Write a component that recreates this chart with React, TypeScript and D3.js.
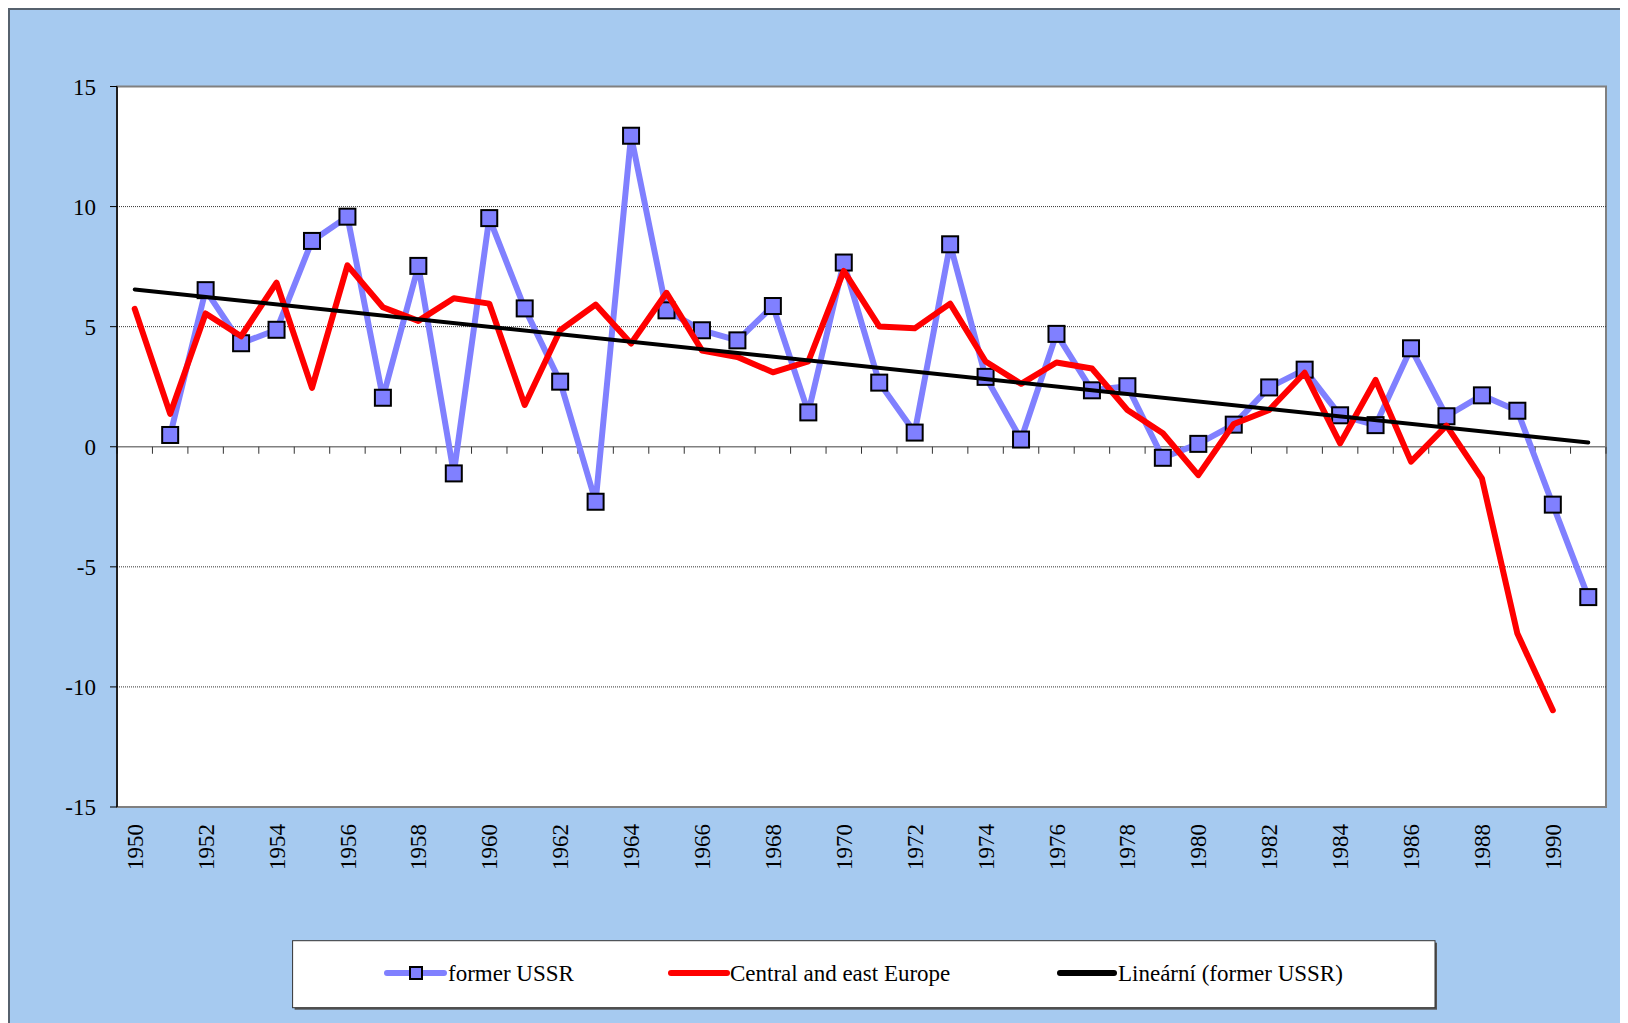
import { scaleBand, scaleLinear, line } from "d3";

const years = [
  1950, 1951, 1952, 1953, 1954, 1955, 1956, 1957, 1958, 1959,
  1960, 1961, 1962, 1963, 1964, 1965, 1966, 1967, 1968, 1969,
  1970, 1971, 1972, 1973, 1974, 1975, 1976, 1977, 1978, 1979,
  1980, 1981, 1982, 1983, 1984, 1985, 1986, 1987, 1988, 1989,
  1990, 1991,
];

// former USSR (no value for 1950)
const ussr: (number | null)[] = [
  null, 0.49, 6.52, 4.31, 4.87, 8.57, 9.58, 2.04, 7.53, -1.11,
  9.52, 5.76, 2.71, -2.29, 12.95, 5.68, 4.85, 4.43, 5.86, 1.43,
  7.67, 2.67, 0.59, 8.43, 2.91, 0.3, 4.7, 2.35, 2.52, -0.46,
  0.12, 0.92, 2.47, 3.21, 1.31, 0.9, 4.1, 1.27, 2.14, 1.5,
  -2.41, -6.26,
];

// Central and east Europe (no value for 1991)
const cee: (number | null)[] = [
  5.74, 1.37, 5.55, 4.6, 6.83, 2.45, 7.55, 5.81, 5.24, 6.18,
  5.96, 1.74, 4.85, 5.92, 4.3, 6.41, 4.01, 3.74, 3.1, 3.55,
  7.32, 5.01, 4.93, 5.96, 3.55, 2.62, 3.51, 3.26, 1.53, 0.56,
  -1.18, 0.95, 1.53, 3.08, 0.14, 2.78, -0.62, 0.88, -1.32, -7.78,
  -10.97, null,
];

const yTicks = [-15, -10, -5, 0, 5, 10, 15];
const seriesNames = ["former USSR", "Central and east Europe", "Lineární (former USSR)"];

const W = 1620;
const H = 1015;
const plot = { left: 109, top: 78.5, right: 1598, bottom: 799 };
const FONT = "'Liberation Serif', 'DejaVu Serif', serif";
const BLUE = "#8080ff";
const RED = "#ff0000";

// Excel style linear trend: x = category position (1-based), fit over points that exist
function linearFit(vals: (number | null)[]) {
  let n = 0, sx = 0, sy = 0, sxx = 0, sxy = 0;
  vals.forEach((v, i) => {
    if (v == null) return;
    const x = i + 1;
    n++; sx += x; sy += v; sxx += x * x; sxy += x * v;
  });
  const slope = (n * sxy - sx * sy) / (n * sxx - sx * sx);
  const icpt = (sy - slope * sx) / n;
  return (i: number) => icpt + slope * (i + 1);
}

export default function App() {
  const x = scaleBand<number>().domain(years).range([plot.left, plot.right]);
  const cx = (yr: number) => (x(yr) ?? 0) + x.bandwidth() / 2;
  const y = scaleLinear().domain([-15, 15]).range([plot.bottom, plot.top]);

  const mkLine = line<[number, number | null]>()
    .defined((d) => d[1] != null)
    .x((d) => cx(d[0]))
    .y((d) => y(d[1] as number));

  const ussrPts = years.map((yr, i) => [yr, ussr[i]] as [number, number | null]);
  const ceePts = years.map((yr, i) => [yr, cee[i]] as [number, number | null]);
  const fit = linearFit(ussr);
  const trendPts = [0, years.length - 1].map((i) => [years[i], fit(i)] as [number, number | null]);

  const tickXs = years.map((yr) => x(yr) ?? 0).concat([plot.right]);
  const y0 = y(0);

  const leg = { x: 284.6, y: 932.7, w: 1142.4, h: 67, cy: 965 };

  return (
    <>
      <style>{`body{overflow:hidden}`}</style>
      <svg width={W} height={H} style={{ display: "block" }} fontFamily={FONT}>
        <rect x={1} y={1} width={W + 40} height={H + 40} fill="#a6caf0" stroke="#56616d" strokeWidth={2} />

        {/* plot area */}
        <rect x={plot.left} y={plot.top} width={plot.right - plot.left} height={plot.bottom - plot.top} fill="#ffffff" stroke="#808080" strokeWidth={2} />

        {/* grid lines */}
        {yTicks.filter((t) => t !== 0 && Math.abs(t) !== 15).map((t) => (
          <line key={"g" + t} x1={plot.left} x2={plot.right} y1={y(t)} y2={y(t)} stroke="#333" strokeWidth={1} strokeDasharray="1,1" />
        ))}

        {/* x axis at zero */}
        <line x1={plot.left} x2={plot.right} y1={y0} y2={y0} stroke="#808080" strokeWidth={1.5} />
        {tickXs.map((tx, i) => (
          <line key={"xt" + i} x1={tx} x2={tx} y1={y0} y2={y0 + 7} stroke="#333" strokeWidth={1} />
        ))}

        {/* y axis */}
        <line x1={plot.left} x2={plot.left} y1={plot.top} y2={plot.bottom} stroke="#000" strokeWidth={1.5} />
        {yTicks.map((t) => (
          <g key={"yt" + t}>
            <line x1={plot.left - 7} x2={plot.left} y1={y(t)} y2={y(t)} stroke="#000" strokeWidth={1} />
            <text x={plot.left - 21} y={y(t)} dy="0.35em" textAnchor="end" fontSize={23} fill="#000">{t}</text>
          </g>
        ))}

        {/* year labels */}
        {years.filter((_yr, i) => i % 2 === 0).map((yr) => (
          <text key={"yl" + yr} transform={`translate(${cx(yr)},${plot.bottom + 17}) rotate(-90)`} dy="0.35em" textAnchor="end" fontSize={23} fill="#000">{yr}</text>
        ))}

        {/* former USSR */}
        <path d={mkLine(ussrPts) || ""} fill="none" stroke={BLUE} strokeWidth={6} strokeLinejoin="round" strokeLinecap="round" />
        {ussrPts.filter((d) => d[1] != null).map((d) => (
          <rect key={"m" + d[0]} x={cx(d[0]) - 8} y={y(d[1] as number) - 8} width={16} height={16} fill={BLUE} stroke="#000" strokeWidth={2} />
        ))}

        {/* Central and east Europe */}
        <path d={mkLine(ceePts) || ""} fill="none" stroke={RED} strokeWidth={6} strokeLinejoin="round" strokeLinecap="round" />

        {/* linear trend */}
        <path d={mkLine(trendPts) || ""} fill="none" stroke="#000" strokeWidth={4} strokeLinecap="round" />

        {/* legend */}
        <rect x={leg.x + 2} y={leg.y + 2} width={leg.w} height={leg.h} fill="#555" />
        <rect x={leg.x} y={leg.y} width={leg.w} height={leg.h} fill="#fff" stroke="#333" strokeWidth={1} />
        <g>
          <line x1={379} x2={436} y1={leg.cy} y2={leg.cy} stroke={BLUE} strokeWidth={6} strokeLinecap="round" />
          <rect x={402} y={leg.cy - 6} width={12} height={12} fill={BLUE} stroke="#000" strokeWidth={2} />
          <text x={440} y={leg.cy} dy="0.35em" fontSize={23}>{seriesNames[0]}</text>
        </g>
        <g>
          <line x1={663} x2={719} y1={leg.cy} y2={leg.cy} stroke={RED} strokeWidth={6} strokeLinecap="round" />
          <text x={722} y={leg.cy} dy="0.35em" fontSize={23}>{seriesNames[1]}</text>
        </g>
        <g>
          <line x1={1052} x2={1106} y1={leg.cy} y2={leg.cy} stroke="#000" strokeWidth={6} strokeLinecap="round" />
          <text x={1110} y={leg.cy} dy="0.35em" fontSize={23}>{seriesNames[2]}</text>
        </g>
      </svg>
    </>
  );
}
